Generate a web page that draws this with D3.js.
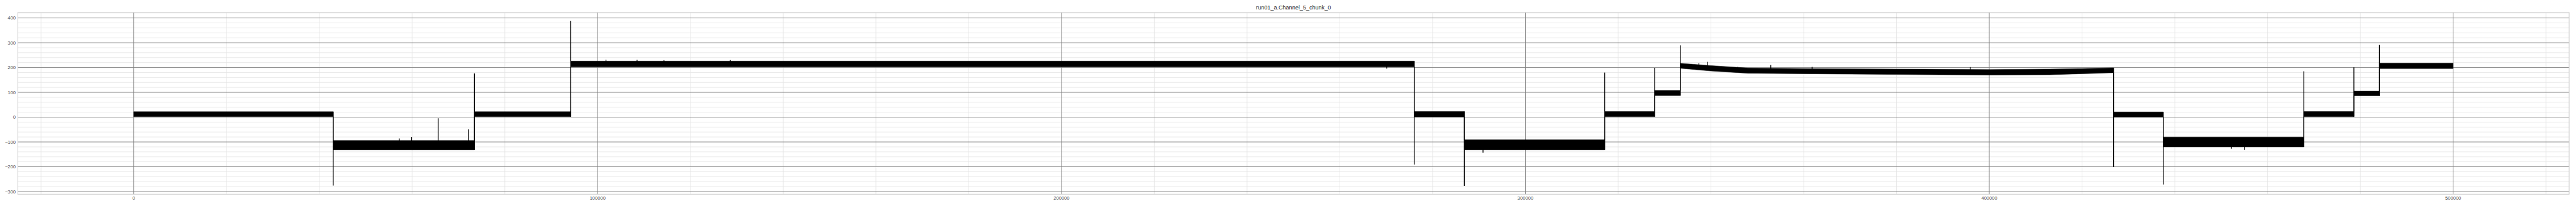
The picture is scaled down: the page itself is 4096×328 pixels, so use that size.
<!DOCTYPE html>
<html><head><meta charset="utf-8">
<script src="https://cdn.jsdelivr.net/npm/d3@7/dist/d3.min.js"></script>
<style>html,body{margin:0;padding:0;background:#fff;} svg{display:block;}</style>
</head><body>
<svg id="chart" width="4096" height="328"></svg>
<script>
// ---------------- data ----------------
const chartTitle = "run01_a.Channel_5_chunk_0";
const sampleFirst = 0, sampleLast = 499999;

// noise band envelope (sample index, lower edge, upper edge)
const envIdx  = [0, 43000, 43000, 73440, 73440, 94200, 94200, 276040, 276040, 286830, 286830, 317100,
                 317100, 327860, 327860, 333400, 333400, 340000, 348000, 360000, 380000, 400000, 413000,
                 420000, 426780, 426780, 437500, 437500, 467800, 467800, 478600, 478600, 484100, 484100, 499999];
const envLow  = [2, 2, -132, -132, 2, 2, 203, 203, 1, 1, -132, -132,
                 2, 2, 87, 87, 197, 186, 177, 175, 172, 170, 171,
                 175, 179, 0, 0, -120, -120, 2, 2, 86, 86, 196, 196];
const envHigh = [22, 22, -94, -94, 22, 22, 226, 226, 23, 23, -91, -91,
                 23, 23, 108, 108, 217, 208, 198, 196, 194, 192, 194,
                 196, 199, 21, 21, -80, -80, 23, 23, 105, 105, 218, 218];

// level changes and the peak reached at each change
const transIdx  = [43000, 73440, 94200, 276040, 286830, 317100, 327860, 333400, 426780, 437500, 467800, 478600, 484100];
const transPeak = [-276, 176.5, 388.6, -191, -277.5, 179.7, 199, 289.6, -200.8, -271.2, 184.8, 200.8, 291];

// isolated spikes inside a level
const spikeIdx = [57240, 59900, 65630, 72140, 101800, 108500, 114300, 128600, 270100, 290860,
                  337400, 339200, 345800, 352900, 361800, 395900, 452200, 455000];
const spikeVal = [-86, -80, -4.5, -49, 232, 231, 229.5, 230, 195.6, -143,
                  218, 223, 203, 210, 203, 202, -127, -132];

const xTickVals = [0, 100000, 200000, 300000, 400000, 500000];
const yTickVals = [-300, -200, -100, 0, 100, 200, 300, 400];

// ---------------- layout ----------------
const k = 0.758;
const W = 4096, H = 328;
const m = {left: 37.3 * k, right: 5389.3 * k, top: 26.3 * k, bottom: 408 * k};

const svg = d3.select("#chart");

// domains with 5% margins like matplotlib
const xPad = (sampleLast - sampleFirst) * 0.05;
const allVals = envLow.concat(envHigh, transPeak, spikeVal);
const yMin = d3.min(allVals), yMax = d3.max(allVals);
const yPad = (yMax - yMin) * 0.05;

const x = d3.scaleLinear().domain([sampleFirst - xPad, sampleLast + xPad]).range([m.left, m.right]);
const y = d3.scaleLinear().domain([yMin - yPad, yMax + yPad]).range([m.bottom, m.top]);

// ---------------- grid ----------------
const g = svg.append("g");
const xMinor = d3.range(-20000, 540000, 20000).filter(v => v > x.domain()[0] && v < x.domain()[1] && v % 100000 !== 0);
const yMinor = d3.range(-400, 500, 20).filter(v => v > y.domain()[0] && v <= y.domain()[1] && v % 100 !== 0);

g.selectAll(".xminor").data(xMinor).join("line")
  .attr("x1", d => x(d)).attr("x2", d => x(d)).attr("y1", m.top).attr("y2", m.bottom)
  .attr("stroke", "#e3e3e3").attr("stroke-width", 0.8);
g.selectAll(".yminor").data(yMinor).join("line")
  .attr("x1", m.left).attr("x2", m.right).attr("y1", d => y(d)).attr("y2", d => y(d))
  .attr("stroke", "#e3e3e3").attr("stroke-width", 0.8);
g.selectAll(".xmajor").data(xTickVals).join("line")
  .attr("x1", d => x(d)).attr("x2", d => x(d)).attr("y1", m.top).attr("y2", m.bottom)
  .attr("stroke", "#808080").attr("stroke-width", 0.9);
g.selectAll(".ymajor").data(yTickVals).join("line")
  .attr("x1", m.left).attr("x2", m.right).attr("y1", d => y(d)).attr("y2", d => y(d))
  .attr("stroke", "#808080").attr("stroke-width", 0.9);

// ---------------- signal ----------------
const env = envIdx.map((v, i) => ({i: v, lo: envLow[i], hi: envHigh[i]}));
const area = d3.area().x(d => x(d.i)).y0(d => y(d.lo)).y1(d => y(d.hi));
svg.append("path").datum(env).attr("d", area)
  .attr("fill", "#000").attr("stroke", "#000").attr("stroke-width", 0.5).attr("stroke-linejoin", "round");

const lw = 1.3;
function spanAt(d, peak, fn) {
  const vals = [peak];
  env.forEach(e => { if (e.i === d) { vals.push(e.lo, e.hi); } });
  return fn(vals);
}
svg.selectAll(".trans").data(transIdx).join("line")
  .attr("x1", d => x(d)).attr("x2", d => x(d))
  .attr("y1", (d, j) => y(spanAt(d, transPeak[j], d3.min)))
  .attr("y2", (d, j) => y(spanAt(d, transPeak[j], d3.max)))
  .attr("stroke", "#000").attr("stroke-width", lw);

function centerAt(idx) {
  for (let i = 0; i < env.length - 1; i++) {
    const a = env[i], b = env[i + 1];
    if (idx >= a.i && idx <= b.i && b.i > a.i) {
      const t = (idx - a.i) / (b.i - a.i);
      return ((a.lo + a.hi) / 2) * (1 - t) + ((b.lo + b.hi) / 2) * t;
    }
  }
  return 0;
}
svg.selectAll(".spike").data(spikeIdx).join("line")
  .attr("x1", d => x(d)).attr("x2", d => x(d))
  .attr("y1", d => y(centerAt(d))).attr("y2", (d, j) => y(spikeVal[j]))
  .attr("stroke", "#000").attr("stroke-width", lw);

// ---------------- frame ----------------
svg.append("rect").attr("x", m.left).attr("y", m.top)
  .attr("width", m.right - m.left).attr("height", m.bottom - m.top)
  .attr("fill", "none").attr("stroke", "#cccccc").attr("stroke-width", 1);

// ---------------- tick labels ----------------
const fmt = d => (d < 0 ? "\u2212" + Math.abs(d) : String(d));
svg.selectAll(".ylab").data(yTickVals).join("text")
  .attr("x", 33 * k).attr("y", d => y(d)).attr("dy", "0.35em")
  .attr("text-anchor", "end")
  .attr("font-family", "'Liberation Sans', Arial, sans-serif").attr("font-size", 10 * k)
  .attr("fill", "#4d4d4d").text(fmt);
svg.selectAll(".xlab").data(xTickVals).join("text")
  .attr("x", d => x(d)).attr("y", 419.6 * k)
  .attr("text-anchor", "middle")
  .attr("font-family", "'Liberation Sans', Arial, sans-serif").attr("font-size", 10 * k)
  .attr("fill", "#4d4d4d").text(d => String(d));

svg.append("text").attr("x", (m.left + m.right) / 2).attr("y", 20.3 * k)
  .attr("text-anchor", "middle")
  .attr("font-family", "'Liberation Sans', Arial, sans-serif").attr("font-size", 12 * k)
  .attr("fill", "#262626").text(chartTitle);
</script>
</body></html>
